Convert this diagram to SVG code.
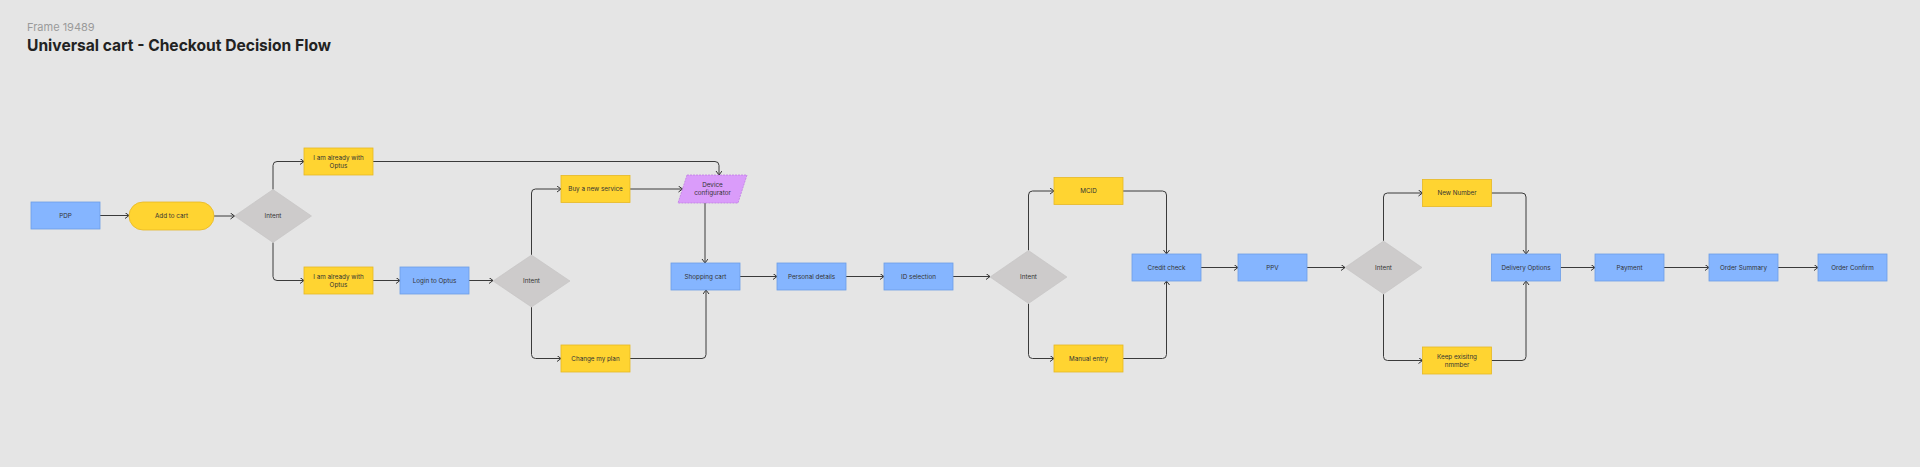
<svg xmlns="http://www.w3.org/2000/svg" width="1920" height="467" viewBox="0 0 1920 467">
<defs>
<marker id="arr" markerUnits="userSpaceOnUse" markerWidth="8" markerHeight="8" refX="4.5" refY="3" orient="auto">
<path d="M0.5,0 L4.5,3 L0.5,6" fill="none" stroke="#333" stroke-width="1"/>
</marker>
<style>
.bg{fill:#e5e5e5}
.blue{fill:#85b5ff;stroke:#6d9fe6;stroke-width:0.8}
.yel{fill:#ffd431;stroke:#e7b824;stroke-width:0.8}
.dia{fill:#cdcbcb;stroke:#c4c2c2;stroke-width:0.6}
.pur{fill:#da9cfa;stroke:#bf7ee3;stroke-width:0.8;stroke-dasharray:2 1}
.lbl{font-family:Inter,"Noto Sans","Liberation Sans",sans-serif;font-size:6.3px;fill:#333;text-anchor:middle;dominant-baseline:central}
.con path{fill:none;stroke:#3a3a3a;stroke-width:1;marker-end:url(#arr)}
</style>
</defs>
<rect class="bg" x="0" y="0" width="1920" height="467"/>
<text x="27" y="31" font-family="Inter,'Noto Sans','Liberation Sans',sans-serif" font-size="11" fill="#9a9a9a">Frame 19489</text>
<text x="27" y="51" font-family="Inter,'Noto Sans','Liberation Sans',sans-serif" font-size="16.5" font-weight="700" fill="#222" textLength="304" lengthAdjust="spacingAndGlyphs">Universal cart - Checkout Decision Flow</text>

<g class="con">
<path d="M100,215.5 H129"/>
<path d="M214,216 H234.5"/>
<path d="M273,189.5 V165.5 Q273,161.5 277,161.5 H304"/>
<path d="M273,242.5 V276.5 Q273,280.5 277,280.5 H304"/>
<path d="M373,161.5 H715 Q719,161.5 719,165.5 V175"/>
<path d="M373,280.5 H400"/>
<path d="M469,280.5 H493"/>
<path d="M531.5,255 V193 Q531.5,189 535.5,189 H561"/>
<path d="M531.5,307 V354.5 Q531.5,358.5 535.5,358.5 H561"/>
<path d="M630,189 H682.5"/>
<path d="M705,203 V263"/>
<path d="M630,358.5 H702 Q706,358.5 706,354.5 V290"/>
<path d="M740,276.5 H777"/>
<path d="M846,276.5 H884"/>
<path d="M953,276.5 H990"/>
<path d="M1028.5,250.5 V195 Q1028.5,191 1032.5,191 H1054"/>
<path d="M1028.5,303.5 V354.5 Q1028.5,358.5 1032.5,358.5 H1054"/>
<path d="M1123,191 H1162.5 Q1166.5,191 1166.5,195 V254"/>
<path d="M1123,358.5 H1162.5 Q1166.5,358.5 1166.5,354.5 V281"/>
<path d="M1201,267.5 H1238"/>
<path d="M1307,267.5 H1345"/>
<path d="M1383.5,241 V197 Q1383.5,193 1387.5,193 H1422.5"/>
<path d="M1383.5,294 V356.5 Q1383.5,360.5 1387.5,360.5 H1422.5"/>
<path d="M1491.5,193 H1522 Q1526,193 1526,197 V254"/>
<path d="M1491.5,360.5 H1522 Q1526,360.5 1526,356.5 V281"/>
<path d="M1560.5,267.5 H1595"/>
<path d="M1664,267.5 H1709"/>
<path d="M1778,267.5 H1818"/>
</g>

<g id="pdp"><rect class="blue" x="31" y="202" width="69" height="27"/><text class="lbl" x="65.5" y="215.5">PDP</text></g>
<g id="add-to-cart"><rect class="yel" x="129" y="202" width="85" height="28" rx="14"/><text class="lbl" x="171.5" y="216">Add to cart</text></g>
<g id="intent1"><polygon class="dia" points="234.5,216 273,189.5 311.5,216 273,242.5"/><text class="lbl" x="273" y="216">Intent</text></g>
<g id="already-optus-1"><rect class="yel" x="304" y="148" width="69" height="27"/><text class="lbl" x="338.5" y="157.5">I am already with</text><text class="lbl" x="338.5" y="165.5">Optus</text></g>
<g id="already-optus-2"><rect class="yel" x="304" y="267" width="69" height="27"/><text class="lbl" x="338.5" y="276.5">I am already with</text><text class="lbl" x="338.5" y="284.5">Optus</text></g>
<g id="login"><rect class="blue" x="400" y="267" width="69" height="27"/><text class="lbl" x="434.5" y="280.5">Login to Optus</text></g>
<g id="intent2"><polygon class="dia" points="493,281 531.5,255 570,281 531.5,307"/><text class="lbl" x="531.5" y="281">Intent</text></g>
<g id="buy-new"><rect class="yel" x="561" y="175.5" width="69" height="27"/><text class="lbl" x="595.5" y="189">Buy a new service</text></g>
<g id="change-plan"><rect class="yel" x="561" y="345" width="69" height="27"/><text class="lbl" x="595.5" y="358.5">Change my plan</text></g>
<g id="device-config"><polygon class="pur" points="687,175 747,175 738,203 678,203"/><text class="lbl" x="712.5" y="185">Device</text><text class="lbl" x="712.5" y="193">configurator</text></g>
<g id="shopping-cart"><rect class="blue" x="671" y="263" width="69" height="27"/><text class="lbl" x="705.5" y="276.5">Shopping cart</text></g>
<g id="personal-details"><rect class="blue" x="777" y="263" width="69" height="27"/><text class="lbl" x="811.5" y="276.5">Personal details</text></g>
<g id="id-selection"><rect class="blue" x="884" y="263" width="69" height="27"/><text class="lbl" x="918.5" y="276.5">ID selection</text></g>
<g id="intent3"><polygon class="dia" points="990,277 1028.5,250.5 1067,277 1028.5,303.5"/><text class="lbl" x="1028.5" y="277">Intent</text></g>
<g id="mcid"><rect class="yel" x="1054" y="177.5" width="69" height="27"/><text class="lbl" x="1088.5" y="191">MCID</text></g>
<g id="manual-entry"><rect class="yel" x="1054" y="345" width="69" height="27"/><text class="lbl" x="1088.5" y="358.5">Manual entry</text></g>
<g id="credit-check"><rect class="blue" x="1132" y="254" width="69" height="27"/><text class="lbl" x="1166.5" y="267.5">Credit check</text></g>
<g id="ppv"><rect class="blue" x="1238" y="254" width="69" height="27"/><text class="lbl" x="1272.5" y="267.5">PPV</text></g>
<g id="intent4"><polygon class="dia" points="1345,267.5 1383.5,241 1422,267.5 1383.5,294"/><text class="lbl" x="1383.5" y="267.5">Intent</text></g>
<g id="new-number"><rect class="yel" x="1422.5" y="179.5" width="69" height="27"/><text class="lbl" x="1457" y="193">New Number</text></g>
<g id="keep-number"><rect class="yel" x="1422.5" y="347" width="69" height="27"/><text class="lbl" x="1457" y="356.5">Keep exisitng</text><text class="lbl" x="1457" y="364.5">nmmber</text></g>
<g id="delivery-options"><rect class="blue" x="1491.5" y="254" width="69" height="27"/><text class="lbl" x="1526" y="267.5">Delivery Options</text></g>
<g id="payment"><rect class="blue" x="1595" y="254" width="69" height="27"/><text class="lbl" x="1629.5" y="267.5">Payment</text></g>
<g id="order-summary"><rect class="blue" x="1709" y="254" width="69" height="27"/><text class="lbl" x="1743.5" y="267.5">Order Summary</text></g>
<g id="order-confirm"><rect class="blue" x="1818" y="254" width="69" height="27"/><text class="lbl" x="1852.5" y="267.5">Order Confirm</text></g>
</svg>
